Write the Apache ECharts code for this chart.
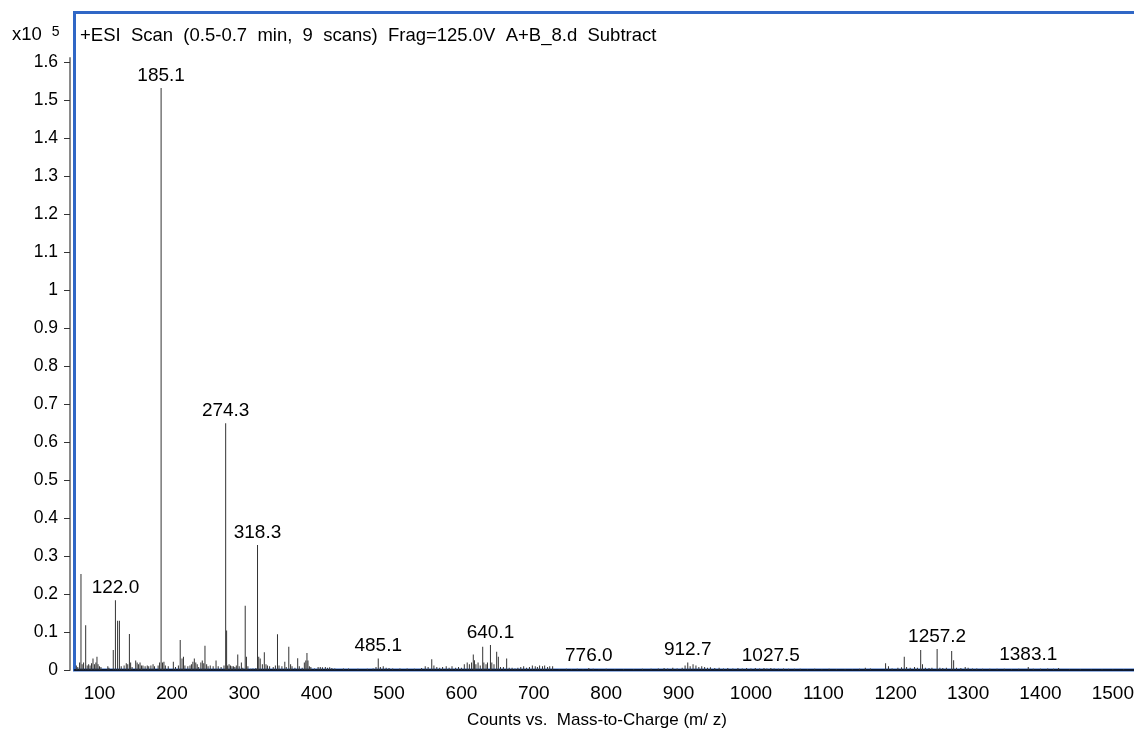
<!DOCTYPE html>
<html>
<head>
<meta charset="utf-8">
<script src="https://cdn.jsdelivr.net/npm/echarts@6/dist/echarts.min.js"></script>
<style>
html,body{margin:0;padding:0;background:#fff;}
#chart{width:1134px;height:731px;}
</style>
</head>
<body>
<div id="chart"></div>
<script>
// m/z of each peak line
const mzValues = [
 68,70,72.5,74.4,76,78,80.9,83,85,87,89,91,93,95,96.5,98,100,102,111.5,113,119,122.0,125,127.5,130,134,137,139,141.3,143,145,
 150,152,154,156,158,160,163,166,168,171,174,176,181,183,185.1,187,189,191,195,202,205,209,211.5,214,216,218,222,225,227,229,231,233,235,237,
 240,242,244,245.7,248,250,253,257,261,264,268,272,274.3,275.6,277,279,281,283,285,287,289,291,293,296,298,301.3,303,305,309,312,316,
 318.3,320,322,325,327.7,330,332,335,340,343,345.9,348,352,356,358,361.5,364,366,370,373.8,376,380,383,385,386.6,388,390,392,397,
 402,405,408,412,415,418,421,425,437,444,
 457,470,478,482,485.1,488,492,496,500,505,515,525,535,545,550,554,559,562,566,570,574,579,583,587,592,596,600,604,608,611,614,616.4,618,620,623,626,
 629.4,631,634,636,640.1,642,645,648.7,651,654,658,662.5,666,670,674,678,682,686,690,694,698,702,705,708,712,715,719,722,726,
 735,745,752,760,768,776.0,782,790,800,812,824,838,850,862,872,880,885,892,898,905,909,912.7,916,920,924,928,932,936,940,944,950,956,962,968,975,
 982,988,994,1000,1006,1012,1018,1022,1027.5,1032,1038,1045,1052,1060,1068,1078,1088,1098,1108,1118,1130,1140,1150,1158,1165,
 1186,1190,1195,1203,1208,1211.8,1215,1220,1226,1230,1234.5,1237,1241,1246,1250,1257.2,1261,1265,1270,1277.3,1280,1284,1290,1296,1300,1306,1312,
 1320,1330,1340,1350,1360,1370,1383.1,1390,1400,1410,1418,1425,1440,1455,1470,1485,1500,1515,1530
];
// counts (x10^5) of each peak line
const intensities = [
 0.012,0.008,0.02,0.253,0.015,0.02,0.118,0.012,0.015,0.012,0.018,0.03,0.015,0.02,0.035,0.015,0.01,0.008,0.01,0.006,0.053,0.184,0.13,0.13,0.01,0.012,0.018,0.015,0.095,0.02,0.008,
 0.025,0.02,0.015,0.02,0.012,0.012,0.01,0.012,0.01,0.012,0.015,0.01,0.012,0.02,1.533,0.02,0.022,0.012,0.01,0.022,0.008,0.012,0.079,0.03,0.035,0.012,0.01,0.012,0.015,0.022,0.03,0.02,0.015,0.008,
 0.02,0.025,0.018,0.064,0.015,0.01,0.012,0.01,0.025,0.01,0.008,0.012,0.65,0.104,0.012,0.015,0.012,0.01,0.01,0.008,0.012,0.041,0.01,0.02,0.006,0.169,0.035,0.01,0.003,0.004,0.005,
 0.329,0.035,0.03,0.015,0.047,0.015,0.012,0.01,0.008,0.012,0.094,0.012,0.01,0.022,0.008,0.061,0.015,0.01,0.006,0.031,0.01,0.006,0.02,0.025,0.045,0.025,0.01,0.008,0.004,
 0.008,0.008,0.007,0.008,0.006,0.007,0.005,0.004,0.004,0.004,
 0.003,0.003,0.004,0.008,0.03,0.008,0.01,0.006,0.005,0.004,0.004,0.004,0.003,0.005,0.01,0.008,0.028,0.012,0.008,0.006,0.008,0.01,0.006,0.01,0.006,0.008,0.006,0.015,0.02,0.015,0.02,0.041,0.026,0.015,0.02,0.012,
 0.061,0.02,0.015,0.02,0.066,0.02,0.015,0.048,0.035,0.008,0.008,0.03,0.006,0.006,0.004,0.006,0.008,0.01,0.006,0.008,0.012,0.01,0.008,0.012,0.01,0.012,0.008,0.01,0.01,
 0.002,0.003,0.002,0.003,0.002,0.005,0.003,0.002,0.003,0.002,0.002,0.002,0.003,0.003,0.004,0.005,0.004,0.006,0.004,0.006,0.012,0.02,0.01,0.015,0.012,0.008,0.01,0.008,0.006,0.007,0.005,0.006,0.004,0.005,0.004,
 0.005,0.004,0.005,0.004,0.005,0.004,0.005,0.004,0.005,0.004,0.003,0.004,0.003,0.003,0.003,0.002,0.003,0.002,0.003,0.002,0.002,0.002,0.003,0.006,0.004,
 0.018,0.01,0.004,0.006,0.007,0.035,0.008,0.006,0.008,0.006,0.053,0.015,0.006,0.005,0.006,0.055,0.006,0.005,0.006,0.05,0.026,0.006,0.005,0.008,0.006,0.004,0.004,
 0.003,0.003,0.003,0.003,0.002,0.003,0.008,0.003,0.003,0.004,0.003,0.005,0.002,0.002,0.002,0.002,0.002,0.002,0.002
];
// annotated peaks
const labelMz = [122.0,185.1,274.3,318.3,485.1,640.1,776.0,912.7,1027.5,1257.2,1383.1];
const labelText = ['122.0','185.1','274.3','318.3','485.1','640.1','776.0','912.7','1027.5','1257.2','1383.1'];
// axis tick labels
const xTicks = [100,200,300,400,500,600,700,800,900,1000,1100,1200,1300,1400,1500];
const yTicks = [0,0.1,0.2,0.3,0.4,0.5,0.6,0.7,0.8,0.9,1,1.1,1.2,1.3,1.4,1.5,1.6];

const titleText = '+ESI  Scan  (0.5-0.7  min,  9  scans)  Frag=125.0V  A+B_8.d  Subtract';
const xName = 'Counts vs.  Mass-to-Charge (m/ z)';

const FONT = "'Liberation Sans', Arial, sans-serif";

const seriesData = mzValues.map((mz, i) => {
  const li = labelMz.indexOf(mz);
  const item = { value: [mz, intensities[i]] };
  if (li >= 0) {
    item.label = { show: true, formatter: labelText[li] };
  }
  return item;
});

const chart = echarts.init(document.getElementById('chart'), null, { renderer: 'canvas' });
chart.setOption({
  animation: false,
  backgroundColor: '#fff',
  textStyle: { fontFamily: FONT },
  title: [
    { text: titleText, left: 80, top: 26, padding: 0,
      textStyle: { fontFamily: FONT, fontSize: 18.5, fontWeight: 'normal', color: '#000' } },
    { text: '{a|x10}  {b|5}', left: 12, top: 25, padding: 0,
      textStyle: { fontFamily: FONT, fontSize: 18, fontWeight: 'normal', color: '#000',
        rich: { a: { fontFamily: FONT, fontSize: 18.5, color: '#000' },
                b: { fontFamily: FONT, fontSize: 14, color: '#000', verticalAlign: 'top', padding: [0,0,6,0] } } } }
  ],
  grid: [
    { left: 74.5, top: 12.5, bottom: 61, width: 1070, show: true, borderColor: '#3067c6', borderWidth: 3,
      backgroundColor: '#fff', containLabel: false, outerBoundsMode: 'none' },
    { left: 70, top: 58, bottom: 61, width: 1, show: false, containLabel: false, outerBoundsMode: 'none' }
  ],
  xAxis: [
    { gridIndex: 0, type: 'value', min: 65.46, max: 1543.7, offset: 8,
      axisLine: { show: true, lineStyle: { color: '#000', width: 1.5 } },
      axisTick: { show: false },
      splitLine: { show: false },
      axisLabel: { customValues: xTicks, fontFamily: FONT, fontSize: 19, color: '#000', margin: 6,
        formatter: v => String(v) },
      name: xName, nameLocation: 'middle', nameGap: 34,
      nameTextStyle: { fontFamily: FONT, fontSize: 17, color: '#000', padding: [0, 25, 0, 0] } },
    { gridIndex: 1, type: 'value', min: 0, max: 1, show: false }
  ],
  yAxis: [
    { gridIndex: 0, type: 'value', min: 0, max: 1.7316, show: false },
    { gridIndex: 1, type: 'value', min: 0, max: 1.6119, position: 'left',
      axisLine: { show: true, lineStyle: { color: '#8a8a8a', width: 2 } },
      axisTick: { show: true, customValues: yTicks, length: 6, lineStyle: { color: '#333', width: 1 } },
      splitLine: { show: false },
      axisLabel: { customValues: yTicks, fontFamily: FONT, fontSize: 17.5, color: '#000', margin: 12,
        formatter: v => String(+(+v).toFixed(1)) } }
  ],
  series: [{
    type: 'bar',
    xAxisIndex: 0, yAxisIndex: 0,
    barWidth: 1,
    itemStyle: { color: '#333' },
    label: { show: false, position: 'top', distance: 3, fontFamily: FONT, fontSize: 19, color: '#000' },
    data: seriesData
  }]
});
</script>
</body>
</html>
